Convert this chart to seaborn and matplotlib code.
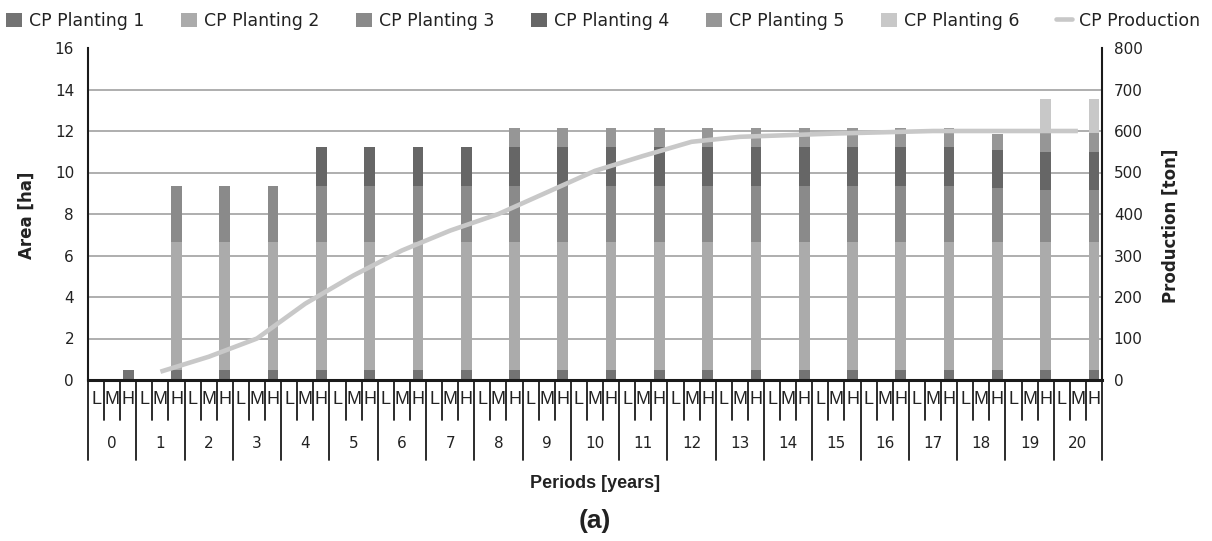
import numpy as np
import pandas as pd
import matplotlib
matplotlib.use("Agg")
import matplotlib.pyplot as plt
from matplotlib.patches import Patch
from matplotlib.lines import Line2D
import seaborn as sns

# ---- data -------------------------------------------------------------
periods = list(range(21))
levels = ["L", "M", "H"]

planting_1 = [0.5, 0.5, 0.5, 0.5, 0.5, 0.5, 0.5, 0.5, 0.5, 0.5, 0.5,
              0.5, 0.5, 0.5, 0.5, 0.5, 0.5, 0.5, 0.5, 0.5, 0.5]
planting_2 = [0, 6.17, 6.17, 6.17, 6.17, 6.17, 6.17, 6.17, 6.17, 6.17, 6.17,
              6.17, 6.17, 6.17, 6.17, 6.17, 6.17, 6.17, 6.17, 6.17, 6.17]
planting_3 = [0, 2.67, 2.67, 2.67, 2.67, 2.67, 2.67, 2.67, 2.67, 2.67, 2.67,
              2.67, 2.67, 2.67, 2.67, 2.67, 2.67, 2.67, 2.6, 2.5, 2.5]
planting_4 = [0, 0, 0, 0, 1.87, 1.87, 1.87, 1.87, 1.87, 1.87, 1.87,
              1.87, 1.87, 1.87, 1.87, 1.87, 1.87, 1.87, 1.82, 1.83, 1.83]
planting_5 = [0, 0, 0, 0, 0, 0, 0, 0, 0.93, 0.93, 0.93,
              0.93, 0.93, 0.93, 0.93, 0.93, 0.93, 0.93, 0.76, 0.9, 0.9]
planting_6 = [0, 0, 0, 0, 0, 0, 0, 0, 0, 0, 0,
              0, 0, 0, 0, 0, 0, 0, 0, 1.65, 1.65]
production = [np.nan, 20, 56, 100, 184, 252, 312, 360, 400, 452, 504,
              540, 574, 586, 590, 594, 597, 600, 600, 600, 600]

series_names = ["CP Planting 1", "CP Planting 2", "CP Planting 3",
                "CP Planting 4", "CP Planting 5", "CP Planting 6"]
series_colors = ["#737373", "#ababab", "#8a8a8a", "#666666", "#969696", "#c8c8c8"]
line_color = "#c8c8c8"

# ---- style ------------------------------------------------------------
sns.set_theme(style="white")
plt.rcParams["font.family"] = ["DejaVu Sans"]
TEXT = "#222222"
WIDE = ["DejaVu Sans"]
NARROW = ["Liberation Sans Narrow", "Liberation Sans", "DejaVu Sans"]
ARIAL = ["Liberation Sans", "DejaVu Sans"]

W, H = 1212, 541
fig = plt.figure(figsize=(W / 100, H / 100), dpi=100)
ax_left, ax_right, ax_top, ax_bottom = 88, 1102, 48, 380
ax_w, ax_h = ax_right - ax_left, ax_bottom - ax_top
ax = fig.add_axes([ax_left / W, 1 - ax_bottom / H, ax_w / W, ax_h / H])

# category slots: one per (period, level); bars sit on the "H" slot
slots = [f"{p}{lv}" for p in periods for lv in levels]
h_slots = [f"{p}H" for p in periods]

stack = np.array([planting_1, planting_2, planting_3,
                  planting_4, planting_5, planting_6], dtype=float)
cumulative = np.cumsum(stack, axis=0)

# draw cumulative totals from the top layer down so each layer covers the next
for k in range(len(series_names) - 1, -1, -1):
    df = pd.DataFrame({"slot": h_slots, "area": cumulative[k]})
    sns.barplot(data=df, x="slot", y="area", order=slots, ax=ax,
                color=series_colors[k], saturation=1, width=0.66,
                linewidth=0, errorbar=None)

ax.set_xlim(-0.5, len(slots) - 0.5)
ax.set_ylim(0, 16)
ax.set_yticks(np.arange(0, 17, 2))
ax.set_xticks([])
ax.set_xlabel("")
ax.set_ylabel("Area [ha]", fontsize=12, fontweight="bold", family=WIDE, color=TEXT)
ax.yaxis.set_label_coords((36 - ax_left) / ax_w, 0.497)
ax.tick_params(axis="y", length=0, pad=10, labelsize=11, colors=TEXT)
ax.set_axisbelow(True)
ax.yaxis.grid(True, color="#a8a8a8", linewidth=1.3)
ax.get_ygridlines()[-1].set_visible(False)
ax.get_ygridlines()[0].set_visible(False)
for s in ["top", "right"]:
    ax.spines[s].set_visible(False)
ax.spines["left"].set_color("#1a1a1a")
ax.spines["left"].set_linewidth(1.5)
ax.spines["bottom"].set_color("#1a1a1a")
ax.spines["bottom"].set_linewidth(2.2)

# production on the secondary axis, plotted at the middle slot of each period
ax2 = ax.twinx()
prod_x = [slots.index(f"{p}M") for p in periods]
prod_df = pd.DataFrame({"x": prod_x, "production": production}).dropna()
sns.lineplot(data=prod_df, x="x", y="production", ax=ax2, color=line_color,
             linewidth=3.3, solid_capstyle="butt")
ax2.set_xlim(-0.5, len(slots) - 0.5)
ax2.set_ylim(0, 800)
ax2.set_yticks(np.arange(0, 801, 100))
ax2.set_xlabel("")
ax2.set_ylabel("Production [ton]", fontsize=12, fontweight="bold", family=WIDE,
               color=TEXT)
ax2.yaxis.set_label_coords((1162 - ax_left) / ax_w, (ax_bottom - 226) / ax_h)
ax2.tick_params(axis="y", length=0, pad=8.5, labelsize=11, colors=TEXT)
for s in ["top", "left", "bottom"]:
    ax2.spines[s].set_visible(False)
ax2.spines["right"].set_color("#1a1a1a")
ax2.spines["right"].set_linewidth(1.5)
ax2.grid(False)

# two-level category axis drawn beneath the plot
px = 1 / ax_h
trans = ax.get_xaxis_transform()
for i in range(len(slots) + 1):
    depth = 80 if i % 3 == 0 else 40
    ax.plot([i - 0.5, i - 0.5], [0, -depth * px], transform=trans,
            clip_on=False, color="#1a1a1a", linewidth=1.3)
for i, s in enumerate(slots):
    ax.text(i, -20 * px, s[-1], transform=trans, ha="center", va="center",
            fontsize=13, family=NARROW, color=TEXT)
for p in periods:
    ax.text(3 * p + 1, -64 * px, str(p), transform=trans, ha="center",
            va="center", fontsize=11, family=WIDE, color=TEXT)

fig.text((ax_left + ax_right) / 2 / W, 1 - 484 / H, "Periods [years]",
         ha="center", va="center", fontsize=13, fontweight="bold",
         family=ARIAL, color=TEXT)
fig.text((ax_left + ax_right) / 2 / W, 1 - 521 / H, "(a)",
         ha="center", va="center", fontsize=19, fontweight="bold",
         family=ARIAL, color=TEXT)

# legend across the top
handles = [Patch(facecolor=c, edgecolor="none") for c in series_colors]
handles.append(Line2D([0], [0], color=line_color, linewidth=3.3))
labels = series_names + ["CP Production"]
fig.legend(handles, labels, loc="lower left", mode="expand",
           bbox_to_anchor=(6 / W, 1 - 30 / H, (1200 - 6) / W, 22 / H),
           ncol=7, frameon=False, prop={"family": WIDE, "size": 12.5},
           labelcolor=TEXT, handlelength=0.9, handleheight=0.9,
           handletextpad=0.4, borderaxespad=0.0, borderpad=0.0)

fig.savefig("out.png", dpi=100, facecolor="white")
